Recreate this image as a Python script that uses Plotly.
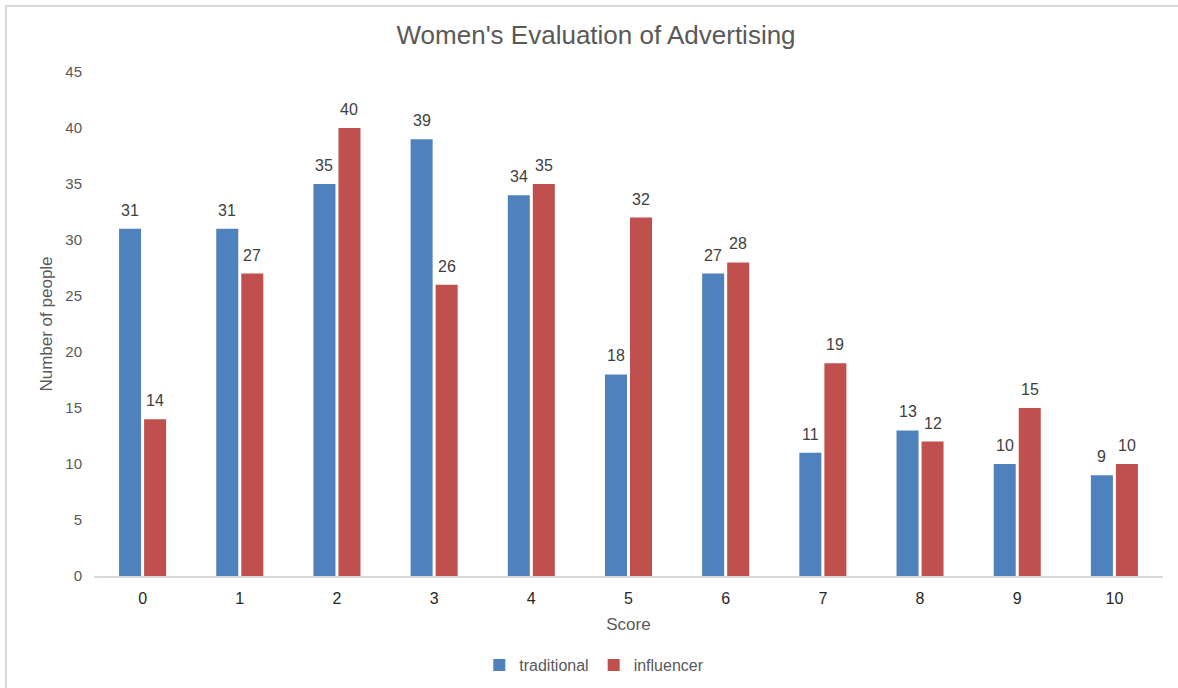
import plotly.graph_objects as go

scores = list(range(11))
traditional = [31, 31, 35, 39, 34, 18, 27, 11, 13, 10, 9]
influencer = [14, 27, 40, 26, 35, 32, 28, 19, 12, 15, 10]
y_ticks = [0, 5, 10, 15, 20, 25, 30, 35, 40, 45]

BLUE = "#4F81BD"
RED = "#C0504D"
FONT = "Liberation Sans, Arial, sans-serif"
BARGAP = 0.485
GROUPGAP = 0.12

fig = go.Figure()
fig.add_trace(go.Bar(x=scores, y=traditional, name="traditional",
                     marker=dict(color=BLUE, line=dict(width=0))))
fig.add_trace(go.Bar(x=scores, y=influencer, name="influencer",
                     marker=dict(color=RED, line=dict(width=0))))

# value labels centred above each bar of a group
half = (1 - BARGAP) / 4
annotations = []
for series, off in ((traditional, -half), (influencer, half)):
    for s, v in zip(scores, series):
        annotations.append(dict(x=s + off, y=v, text=str(v), showarrow=False,
                                xref="x", yref="y", yanchor="bottom", yshift=8,
                                font=dict(family=FONT, size=16, color="#404040")))

fig.update_layout(
    width=1178, height=688,
    paper_bgcolor="white", plot_bgcolor="white",
    margin=dict(l=94, r=15, t=72, b=112, autoexpand=False),
    barmode="group", bargap=BARGAP, bargroupgap=GROUPGAP,
    font=dict(family=FONT, color="#595959"),
    title=dict(text="Women's Evaluation of Advertising", x=0.506, xanchor="center",
               y=0.949, yanchor="middle",
               font=dict(family=FONT, size=26, color="#595959")),
    annotations=annotations,
    showlegend=True,
    legend=dict(orientation="h", x=0.468, xanchor="center", y=-0.177, yanchor="middle",
                font=dict(family=FONT, size=16, color="#595959"),
                itemwidth=30, tracegroupgap=0, traceorder="normal"),
    shapes=[dict(type="rect", xref="paper", yref="paper",
                 x0=-0.0823, x1=1.05, y0=-0.3, y1=1.131,
                 line=dict(color="#D9D9D9", width=2), fillcolor="rgba(0,0,0,0)",
                 layer="below")],
)
fig.update_xaxes(range=[-0.5, 10.5], tickmode="array", tickvals=scores,
                 ticktext=[str(s) for s in scores], showgrid=False, zeroline=False,
                 showline=True, linecolor="#D9D9D9", linewidth=2, automargin=False,
                 ticks="outside", ticklen=7, tickcolor="rgba(0,0,0,0)",
                 tickfont=dict(family=FONT, size=16, color="#262626"),
                 title=dict(text="Score", standoff=12,
                            font=dict(family=FONT, size=17, color="#595959")))
fig.update_yaxes(range=[0, 45], tickmode="array", tickvals=y_ticks, showgrid=False,
                 zeroline=False, showline=False, automargin=False,
                 ticks="outside", ticklen=8, tickcolor="rgba(0,0,0,0)",
                 tickfont=dict(family=FONT, size=15, color="#595959"),
                 title=dict(text="Number of people", standoff=8,
                            font=dict(family=FONT, size=17, color="#595959")))

fig.write_html("out.html")
